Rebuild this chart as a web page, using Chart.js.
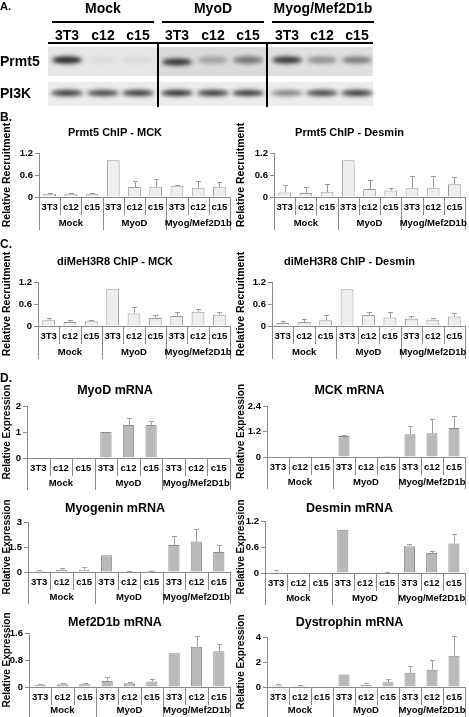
<!DOCTYPE html>
<html><head><meta charset="utf-8">
<script src="https://cdn.jsdelivr.net/npm/chart.js@4.4.0/dist/chart.umd.min.js"></script>
<style>
body{margin:0;background:#fff;width:469px;height:717px;position:relative;overflow:hidden;font-family:"Liberation Sans",Arial,sans-serif;}
.t{position:absolute;font-weight:bold;color:#000;white-space:nowrap;line-height:1;}
canvas{position:absolute;}
.hl{position:absolute;background:#000;}
</style></head><body>
<canvas id="blot" width="469" height="110" style="left:0;top:0"></canvas>
<div class="t" style="left:0;top:1px;font-size:11px">A.</div>
<div class="t" style="left:52px;width:102px;top:1px;font-size:14px;text-align:center">Mock</div>
<div class="t" style="left:162px;width:102px;top:1px;font-size:14px;text-align:center">MyoD</div>
<div class="t" style="left:272px;width:102px;top:1px;font-size:14px;text-align:center">Myog/Mef2D1b</div>
<div class="hl" style="left:52px;width:102px;top:21px;height:2px"></div>
<div class="hl" style="left:162px;width:102px;top:21px;height:2px"></div>
<div class="hl" style="left:272px;width:102px;top:21px;height:2px"></div>
<div id="lanes"></div>
<div class="hl" style="left:48px;width:325px;top:42px;height:2px"></div>
<div class="t" style="left:0;top:54px;font-size:14px">Prmt5</div>
<div class="t" style="left:0;top:86px;font-size:14px">PI3K</div>
<div class="t" style="left:0;top:111px;font-size:12px">B.</div>
<div class="t" style="left:0;top:238px;font-size:12px">C.</div>
<div class="t" style="left:0;top:372px;font-size:12px">D.</div>
<div id="charts"></div>
<script>
// ---------------- DATA ----------------
const categories = ['3T3','c12','c15','3T3','c12','c15','3T3','c12','c15'];
const groups = ['Mock','MyoD','Myog/Mef2D1b'];

// Panel A (western blot band intensities, 0..1)
const blotLanes = ['3T3','c12','c15','3T3','c12','c15','3T3','c12','c15'];
const prmt5Bands = [0.95,0.04,0.06,0.85,0.3,0.55,0.85,0.4,0.5];
const pi3kBands  = [0.85,0.8,0.85,0.9,0.85,0.85,0.5,0.8,0.85];

// Panel B
const prmt5MckValues = [0.09,0.09,0.09,1.0,0.27,0.28,0.31,0.25,0.28];
const prmt5MckErrors = [0.02,0.02,0.02,0,0.18,0.22,0.02,0.18,0.12];
const prmt5MckTicks  = [0,0.6,1.2];
const prmt5DesValues = [0.12,0.11,0.14,1.0,0.22,0.18,0.24,0.24,0.35];
const prmt5DesErrors = [0.22,0.15,0.22,0,0.25,0.07,0.34,0.34,0.2];
const prmt5DesTicks  = [0,0.6,1.2];
// Panel C
const h3r8MckValues = [0.16,0.11,0.13,1.0,0.34,0.22,0.27,0.39,0.31];
const h3r8MckErrors = [0.05,0.05,0.04,0,0.18,0.07,0.1,0.07,0.08];
const h3r8MckTicks  = [0,0.6,1.2];
const h3r8DesValues = [0.08,0.11,0.16,1.0,0.3,0.23,0.2,0.17,0.26];
const h3r8DesErrors = [0.05,0.09,0.14,0,0.09,0.16,0.07,0.05,0.1];
const h3r8DesTicks  = [0,0.6,1.2];
// Panel D
const myodValues = [0,0,0,1.0,1.27,1.27,0,0,0];
const myodErrors = [0,0,0,0,0.28,0.14,0,0,0];
const myodTicks  = [0,1,2];
const mckValues = [0.01,0.02,0.03,0.99,0.02,0.05,1.07,1.12,1.36];
const mckErrors = [0,0,0,0.03,0,0,0.4,0.67,0.59];
const mckTicks  = [0,1.2,2.4];
const myogeninValues = [0.06,0.12,0.14,1.0,0.05,0.07,1.62,1.83,1.2];
const myogeninErrors = [0.05,0.12,0.17,0,0.02,0.01,0.53,0.73,0.43];
const myogeninTicks  = [0,1.5,3];
const desminValues = [0.03,0.01,0.01,1.0,0.01,0.02,0.62,0.46,0.68];
const desminErrors = [0.03,0,0,0,0,0.01,0.05,0.05,0.22];
const desminTicks  = [0,0.6,1.2];
const mef2Values = [0.07,0.08,0.08,0.18,0.11,0.16,1.0,1.19,1.06];
const mef2Errors = [0.01,0.03,0.04,0.11,0.05,0.08,0,0.31,0.21];
const mef2Ticks  = [0,0.8,1.6];
const dysValues = [0.12,0.1,0,1.0,0.18,0.39,1.15,1.38,2.5];
const dysErrors = [0.12,0.05,0,0,0.15,0.26,0.52,0.78,1.57];
const dysTicks  = [0,2,4];

// ---------------- PANEL A DRAWING ----------------
(function(){
  const lanesDiv = document.getElementById('lanes');
  const laneX = [67,103,138,177,213,248,287,322,357];
  blotLanes.forEach((l,i)=>{
    const d=document.createElement('div'); d.className='t';
    d.style.cssText='left:'+(laneX[i]-20)+'px;width:40px;text-align:center;top:28px;font-size:14px';
    d.textContent=l; lanesDiv.appendChild(d);
  });
  const c=document.getElementById('blot').getContext('2d');
  c.fillStyle='#e6e6e6'; c.fillRect(48,47,325,29);
  c.fillStyle='#dadada'; c.fillRect(158,47,110,29);
  c.fillStyle='#e0e0e0'; c.fillRect(268,47,104,29);
  c.fillStyle='#ececec'; c.fillRect(48,82,325,24);
  c.filter='blur(2px)';
  laneX.forEach((x,i)=>{
    const a=prmt5Bands[i];
    c.fillStyle='rgba(20,20,20,'+a+')';
    c.beginPath(); c.ellipse(x, i===3?62:60, 15, 3.5, 0, 0, Math.PI*2); c.fill();
    const b=pi3kBands[i];
    c.fillStyle='rgba(20,20,20,'+b+')';
    c.beginPath(); c.ellipse(x, 93, 16, 3, 0, 0, Math.PI*2); c.fill();
  });
  c.filter='none';
  c.fillStyle='#000';
  c.fillRect(157,43,2,64); c.fillRect(266,43,2,64);
})();

// ---------------- CHARTS ----------------
const FONT = '"Liberation Sans", Arial, sans-serif';
const annot = {
  id:'annot',
  afterDatasetsDraw(chart, args, o){
    const ctx=chart.ctx, meta=chart.getDatasetMeta(0), ys=chart.scales.y;
    const vals=chart.data.datasets[0].data;
    ctx.save(); ctx.strokeStyle=o.errColor; ctx.lineWidth=1;
    meta.data.forEach((bar,i)=>{
      const e=o.errors[i]; if(!e) return;
      const yT=Math.round(ys.getPixelForValue(vals[i]+e))+0.5;
      const x=Math.round(bar.x)+0.5;
      ctx.beginPath(); ctx.moveTo(x,bar.y); ctx.lineTo(x,yT);
      ctx.moveTo(x-2.5,yT); ctx.lineTo(x+2.5,yT); ctx.stroke();
    });
    ctx.restore();
  },
  afterDraw(chart, args, o){
    const xs=chart.scales.x, ctx=chart.ctx, y0=Math.round(xs.top);
    const n=chart.data.labels.length;
    const half=(xs.getPixelForValue(1)-xs.getPixelForValue(0))/2;
    ctx.save(); ctx.strokeStyle=o.sepColor; ctx.lineWidth=1;
    for(let i=0;i<=n;i++){
      const x=Math.round(i<n? xs.getPixelForValue(i)-half : xs.getPixelForValue(n-1)+half)+0.5;
      const major=i%3===0;
      ctx.beginPath(); ctx.moveTo(x,y0); ctx.lineTo(x,y0+(major?o.majorLen:o.minorLen)); ctx.stroke();
    }
    ctx.fillStyle='#000'; ctx.font='bold '+o.groupSize+'px '+FONT;
    ctx.textAlign='center'; ctx.textBaseline='middle';
    groups.forEach((g,k)=>{
      const x=(xs.getPixelForValue(3*k)+xs.getPixelForValue(3*k+2))/2;
      ctx.fillText(g,x,y0+o.groupOffset);
    });
    ctx.restore();
  }
};

const lightBar={fill:'#eeeeee',border:'#9a9a9a',err:'#9a9a9a',bp:0.6};
const darkBar ={fill:'#b9b9b9',border:'#8c8c8c',err:'#a0a0a0',bp:0.5};

const specs=[
 {title:'Prmt5 ChIP - MCK',ytitle:'Relative Recruitment',v:prmt5MckValues,e:prmt5MckErrors,t:prmt5MckTicks,L:0,cx:121,titleY:133,axisX:39,rightX:230,yTop:153,yZero:197,st:lightBar,ts:11,yts:10.5,go:26},
 {title:'Prmt5 ChIP - Desmin',ytitle:'Relative Recruitment',v:prmt5DesValues,e:prmt5DesErrors,t:prmt5DesTicks,L:234,cx:354,titleY:133,axisX:274,rightX:465,yTop:153,yZero:197,st:lightBar,ts:11,yts:10.5,go:26},
 {title:'diMeH3R8 ChIP - MCK',ytitle:'Relative Recruitment',v:h3r8MckValues,e:h3r8MckErrors,t:h3r8MckTicks,L:0,cx:121,titleY:262,axisX:38,rightX:230,yTop:282,yZero:326,st:lightBar,ts:11,yts:10.5,go:26},
 {title:'diMeH3R8 ChIP - Desmin',ytitle:'Relative Recruitment',v:h3r8DesValues,e:h3r8DesErrors,t:h3r8DesTicks,L:234,cx:354,titleY:262,axisX:272,rightX:465,yTop:282,yZero:326,st:lightBar,ts:11,yts:10.5,go:26},
 {title:'MyoD mRNA',ytitle:'Relative Expression',v:myodValues,e:myodErrors,t:myodTicks,L:0,cx:129,titleY:390,axisX:27,rightX:230,yTop:406,yZero:458,st:darkBar,ts:12.5,yts:10,go:25},
 {title:'MCK mRNA',ytitle:'Relative Expression',v:mckValues,e:mckErrors,t:mckTicks,L:234,cx:364,titleY:390,axisX:267,rightX:465,yTop:406,yZero:457,st:darkBar,ts:12.5,yts:10,go:25},
 {title:'Myogenin mRNA',ytitle:'Relative Expression',v:myogeninValues,e:myogeninErrors,t:myogeninTicks,L:0,cx:130,titleY:508,axisX:28,rightX:230,yTop:522,yZero:572,st:darkBar,ts:12.5,yts:10,go:25},
 {title:'Desmin mRNA',ytitle:'Relative Expression',v:desminValues,e:desminErrors,t:desminTicks,L:234,cx:362,titleY:508,axisX:265,rightX:465,yTop:521,yZero:573,st:darkBar,ts:12.5,yts:10,go:25},
 {title:'Mef2D1b mRNA',ytitle:'Relative Expression',v:mef2Values,e:mef2Errors,t:mef2Ticks,L:0,cx:130,titleY:622,axisX:29,rightX:230,yTop:633,yZero:687,st:darkBar,ts:12.5,yts:10,go:23},
 {title:'Dystrophin mRNA',ytitle:'Relative Expression',v:dysValues,e:dysErrors,t:dysTicks,L:234,cx:361,titleY:622,axisX:267,rightX:465,yTop:637,yZero:687,st:darkBar,ts:12.5,yts:10,go:23}
];

const holder=document.getElementById('charts');
specs.forEach(s=>{
  const W=Math.round(2*(s.cx-s.L)), padB=18, xH=20, padT=26;
  const lh=s.ts*1.2;
  const top=Math.round(s.titleY-lh/2-padT);
  const pb=s.yTop-top-padT-lh;
  const H=Math.round(s.yZero+xH+padB-top);
  const cv=document.createElement('canvas');
  cv.width=W; cv.height=H;
  cv.style.left=s.L+'px'; cv.style.top=top+'px';
  holder.appendChild(cv);
  const axisCol='#8a8a8a';
  new Chart(cv,{
    type:'bar',
    data:{labels:categories,datasets:[{data:s.v,backgroundColor:s.st.fill,borderColor:s.st.border,borderWidth:1,barPercentage:s.st.bp,categoryPercentage:1}]},
    plugins:[annot],
    options:{
      responsive:false,animation:false,devicePixelRatio:1,
      layout:{padding:{left:0,top:padT,right:s.L+W-s.rightX,bottom:padB}},
      plugins:{
        legend:{display:false},tooltip:{enabled:false},
        title:{display:true,text:s.title,fullSize:true,color:'#000',font:{family:FONT,size:s.ts,weight:'bold'},padding:{top:0,bottom:pb}},
        annot:{errors:s.e,errColor:s.st.err,sepColor:'#8a8a8a',minorLen:18,majorLen:s.go+7,groupOffset:s.go,groupSize:9.5}
      },
      scales:{
        x:{type:'category',offset:true,grid:{display:false,drawTicks:false},border:{display:true,color:axisCol,width:1},
           ticks:{color:'#000',font:{family:FONT,size:9.5,weight:'bold'},padding:5,autoSkip:false,maxRotation:0,minRotation:0},
           afterFit(sc){sc.height=xH;}},
        y:{min:0,max:s.t[s.t.length-1],
           afterBuildTicks(sc){sc.ticks=s.t.map(v=>({value:v}));},
           grid:{drawOnChartArea:false,drawTicks:true,tickLength:4,color:axisCol},
           border:{display:true,color:axisCol,width:1},
           ticks:{color:'#000',font:{family:FONT,size:9.5,weight:'bold'},padding:2,callback:v=>String(v)},
           title:{display:true,text:s.ytitle,color:'#000',font:{family:FONT,size:s.yts,weight:'bold'},padding:{top:1,bottom:0}},
           afterFit(sc){sc.width=s.axisX-s.L;}}
      }
    }
  });
});
</script>
</body></html>
